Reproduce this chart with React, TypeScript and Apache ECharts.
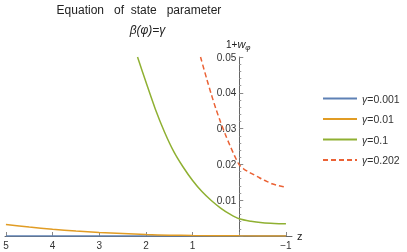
import React, { useEffect, useRef } from "react";
import * as echarts from "echarts";

const seriesNames = ["γ=0.001", "γ=0.01", "γ=0.1", "γ=0.202"];
const seriesColors = ["#5E81B5", "#E19C24", "#8FB032", "#EB6235"];

const gamma0001: [number, number][] = [
  [5, 0.00003], [4, 0.00002], [3, 0.00001], [2, 0.000005], [1, 0.000002], [0, 0.000001], [-1, 0],
];
const gamma001: [number, number][] = [
  [5, 0.0032], [4.5, 0.0025], [4, 0.0019], [3.5, 0.0014], [3, 0.001], [2.5, 0.00068],
  [2, 0.0004], [1.5, 0.00024], [1, 0.00013], [0, 0.00004], [-1, 0.00001],
];
const gamma01: [number, number][] = [
  [2.18, 0.05], [2.0, 0.043], [1.8, 0.0355], [1.6, 0.029], [1.4, 0.0235], [1.2, 0.0192],
  [1.0, 0.0155], [0.8, 0.0124], [0.6, 0.0099], [0.4, 0.0078], [0.2, 0.0061], [0, 0.0048],
  [-0.25, 0.0041], [-0.5, 0.0037], [-0.75, 0.0035], [-1, 0.0034],
];
const gamma0202: [number, number][] = [
  [0.83, 0.05], [0.7, 0.044], [0.6, 0.0396], [0.5, 0.0355], [0.4, 0.0318], [0.3, 0.0284],
  [0.2, 0.0253], [0.1, 0.0224], [0, 0.0199], [-0.1, 0.0187], [-0.2, 0.0179], [-0.3, 0.0172],
  [-0.4, 0.0165], [-0.5, 0.0158], [-0.6, 0.0152], [-0.7, 0.0146], [-0.8, 0.0142],
  [-0.9, 0.0139], [-1, 0.0137],
];

const xTicks = [5, 4, 3, 2, 1, 0, -1];
const xLabels = [5, 4, 3, 2, 1, -1];

const FONT = "Liberation Sans, Arial, sans-serif";

const GRID_LEFT = 5;
const GRID_RIGHT = 115;
const X_MIN = -1.13;
const X_MAX = 5.02;

export default function App() {
  const ref = useRef<HTMLDivElement>(null);
  useEffect(() => {
    if (!ref.current) return;
    const chart = echarts.init(ref.current, null, { renderer: "svg" });
    const datasets = [gamma0001, gamma001, gamma01, gamma0202];
    const plotW = 407 - GRID_LEFT - GRID_RIGHT;
    const yAxisOffset = -((X_MAX - 0) / (X_MAX - X_MIN)) * plotW;
    chart.setOption({
      animation: false,
      textStyle: { fontFamily: FONT },
      grid: {
        left: GRID_LEFT,
        right: GRID_RIGHT,
        top: 57,
        bottom: 16,
        containLabel: false,
        outerBoundsMode: "none",
      },
      xAxis: {
        type: "value",
        inverse: true,
        min: X_MIN,
        max: X_MAX,
        splitLine: { show: false },
        axisLine: { show: true, onZero: false, lineStyle: { color: "#666", width: 1 } },
        axisTick: {
          show: true,
          inside: true,
          length: 4,
          customValues: xTicks,
          lineStyle: { color: "#888" },
        },
        axisLabel: {
          show: true,
          customValues: xLabels,
          color: "#333",
          fontSize: 10,
          fontFamily: FONT,
          margin: 4,
          formatter: (v: number) => (v < 0 ? "\u2212" + Math.abs(v) : String(v)),
        },
      },
      yAxis: {
        type: "value",
        position: "left",
        offset: yAxisOffset,
        min: 0,
        max: 0.05,
        interval: 0.01,
        splitLine: { show: false },
        axisLine: { show: true, onZero: false, lineStyle: { color: "#666", width: 1 } },
        axisTick: { show: true, inside: true, length: 4, lineStyle: { color: "#888" } },
        minorTick: { show: true, splitNumber: 5, length: 2, lineStyle: { color: "#999" } },
        axisLabel: {
          color: "#333",
          fontSize: 10,
          fontFamily: FONT,
          margin: 3,
          formatter: (v: number) => (v === 0 ? "" : v.toFixed(2)),
        },
      },
      legend: {
        orient: "vertical",
        left: 317,
        top: 87,
        itemWidth: 34,
        itemHeight: 13,
        itemGap: 7.5,
        data: seriesNames,
        itemStyle: { opacity: 0 },
        textStyle: {
          fontFamily: FONT,
          fontSize: 10.5,
          color: "#333",
          lineHeight: 13,
          rich: { i: { fontStyle: "italic", fontSize: 10.5, fontFamily: FONT, color: "#333" } },
        },
        formatter: (name: string) => "{i|γ}" + name.slice(1),
      },
      graphic: [
        {
          type: "text",
          style: {
            text: "Equation   of  state   parameter",
            x: 139,
            y: 10,
            textAlign: "center",
            textVerticalAlign: "middle",
            font: "12px Liberation Sans, Arial, sans-serif",
            fill: "#222",
          },
        },
        {
          type: "text",
          style: {
            text: "β(φ)=γ",
            x: 147.5,
            y: 30,
            textAlign: "center",
            textVerticalAlign: "middle",
            font: "italic 12px Liberation Sans, Arial, sans-serif",
            fill: "#222",
          },
        },
        {
          type: "text",
          style: {
            text: "{n|1+}{w|w}{s|φ}",
            x: 226,
            y: 37,
            rich: {
              n: { fontSize: 10, fontFamily: FONT, fill: "#222" },
              w: { fontSize: 11, fontStyle: "italic", fontFamily: FONT, fill: "#222" },
              s: { fontSize: 8, fontStyle: "italic", fontFamily: FONT, fill: "#222", padding: [6, 0, 0, 0] },
            },
          },
        },
        {
          type: "text",
          style: {
            text: "z",
            x: 297,
            y: 236,
            textVerticalAlign: "middle",
            font: "11px Liberation Sans, Arial, sans-serif",
            fill: "#222",
          },
        },
      ],
      series: datasets.map((d, i) => ({
        name: seriesNames[i],
        type: "line",
        data: d,
        smooth: 0.3,
        symbol: "none",
        showSymbol: false,
        clip: true,
        color: seriesColors[i],
        lineStyle: {
          color: seriesColors[i],
          width: 1.5,
          type: i === 3 ? [5, 3] : "solid",
        },
        z: 2 + i,
      })),
    });
    return () => chart.dispose();
  }, []);
  return (
    <div
      ref={ref}
      style={{ position: "fixed", left: 0, top: 0, width: 407, height: 252 }}
    />
  );
}
